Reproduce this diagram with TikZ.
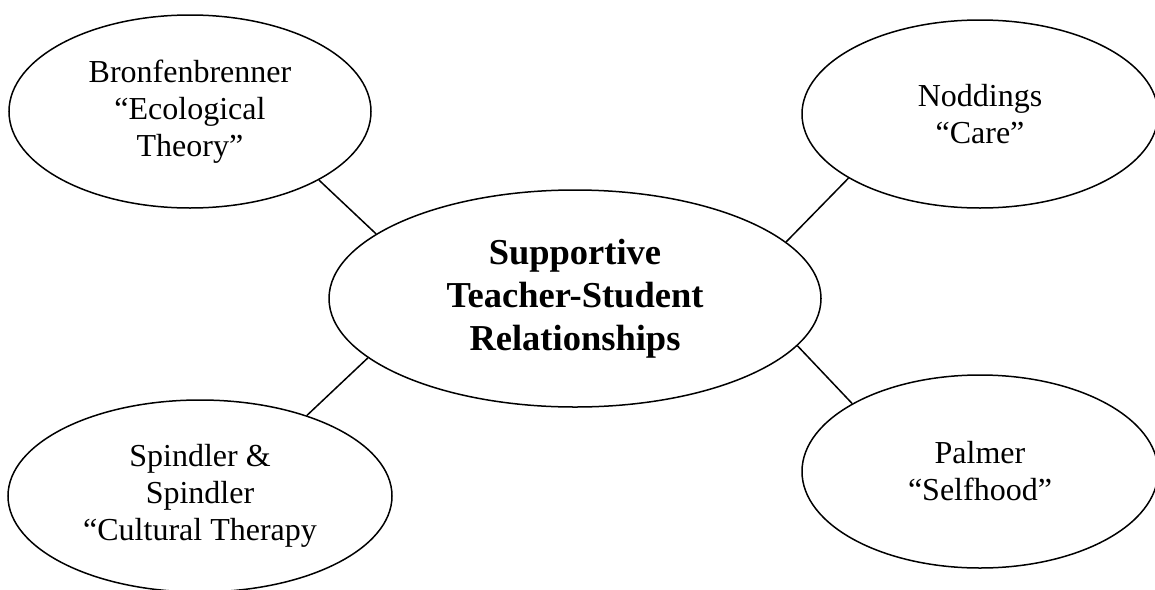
\documentclass[tikz,border=0pt]{standalone}
\usepackage{fontspec}
\setmainfont{Liberation Serif}
\usetikzlibrary{shapes.geometric}
\tikzset{
  bubble/.style={draw, ellipse, line width=1.5pt, inner sep=0pt, align=center,
    font=\fontsize{32}{37}\selectfont},
  hub/.style={bubble, font=\fontsize{36.5}{43}\selectfont\bfseries},
  link/.style={line width=1.5pt}
}
\begin{document}
\begin{tikzpicture}[x=1pt,y=-1pt]
\useasboundingbox (0,0) rectangle (1155,589);
\clip (0,0) rectangle (1155,589);
\node[hub, minimum width=492pt, minimum height=217pt] (c) at (575,298.5)
  {Supportive\\Teacher-Student\\Relationships};
\node[bubble, minimum width=362pt, minimum height=193pt] (tl) at (190,111.5)
  {Bronfenbrenner\\“Ecological\\Theory”};
\node[bubble, minimum width=356pt, minimum height=188pt] (tr) at (980,114)
  {Noddings\\“Care”};
\node[bubble, minimum width=384pt, minimum height=192pt] (bl) at (200,496)
  {Spindler \&\\Spindler\\“Cultural Therapy};
\node[bubble, minimum width=356pt, minimum height=193pt] (br) at (980,471.5)
  {Palmer\\“Selfhood”};
\draw[link] (tl.-28.3) -- (c.162.3);
\draw[link] (tr.-154.1) -- (c.15.7);
\draw[link] (bl.37) -- (c.-164.6);
\draw[link] (br.152.2) -- (c.-12.1);
\end{tikzpicture}
\end{document}
